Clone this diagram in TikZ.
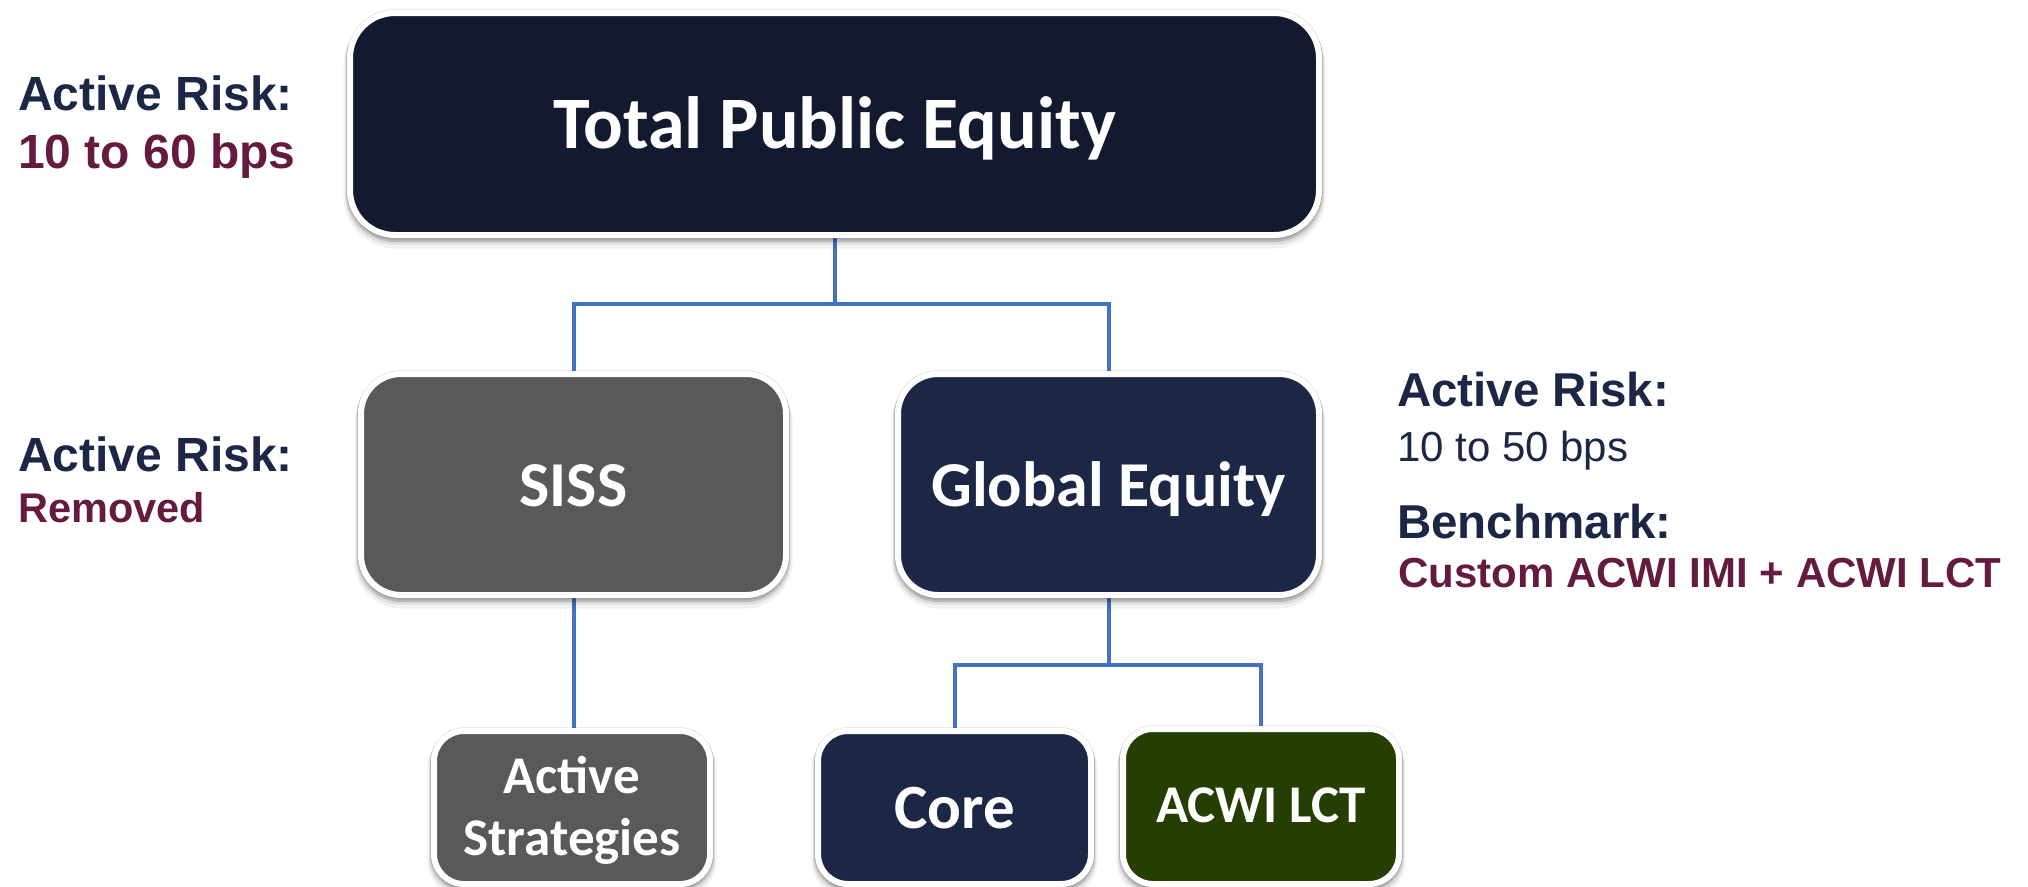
\documentclass[tikz,border=0pt]{standalone}
\usepackage{fontspec}
\setmainfont{Carlito}
\newfontfamily\arial{Liberation Sans}
\usetikzlibrary{shadows,backgrounds}
\definecolor{topnavy}{HTML}{131A2F}
\definecolor{navy}{HTML}{1B2745}
\definecolor{greybox}{HTML}{595959}
\definecolor{greenbox}{HTML}{253F02}
\definecolor{connblue}{HTML}{4472C4}
\definecolor{maroon}{HTML}{651A40}
\tikzset{
  box/.style={draw=white, line width=6pt, rounded corners=#1, inner sep=0pt,
    general shadow={fill=black, draw=black, line width=13pt, opacity=0.05, shadow yshift=-7pt},
    general shadow={fill=black, draw=black, line width=10pt, opacity=0.08, shadow yshift=-5pt},
    general shadow={fill=black, draw=black, line width=8pt, opacity=0.12, shadow yshift=-3pt},
    general shadow={fill=black, draw=black, line width=7.5pt, opacity=0.12}},
  box/.default=30pt,
  conn/.style={draw=connblue, line width=4pt},
  lbl/.style={text=white, font=\bfseries, anchor=base, inner sep=0pt},
  side/.style={anchor=base west, inner sep=0pt, font=\arial\bfseries},
}
\begin{document}
\begin{tikzpicture}[x=1pt,y=-1pt]
\useasboundingbox (0,0) rectangle (2028,886);
% boxes
\node[box=45pt, fill=topnavy, minimum width=969pt, minimum height=222pt] (tpe) at (834.5,124) {};
\node[box=40pt, fill=greybox, minimum width=425pt, minimum height=221pt] (siss) at (573.5,484.5) {};
\node[box=40pt, fill=navy, minimum width=421pt, minimum height=221pt] (ge) at (1108.5,484.5) {};
\node[box, fill=greybox, minimum width=276pt, minimum height=153pt] (as) at (572,807.5) {};
\node[box, fill=navy, minimum width=273pt, minimum height=153pt] (core) at (954.5,807.5) {};
\node[box, fill=greenbox, minimum width=276pt, minimum height=155pt] (lct) at (1261,806.5) {};
% connectors
\begin{scope}[on background layer]
\draw[conn] (tpe.south) -- ++(0,66) -| (siss.north);
\draw[conn] (tpe.south) -- ++(0,66) -| (ge.north);
\draw[conn] (siss.south) -- (siss.south |- as.north);
\draw[conn] (ge.south) -- ++(0,67) -| (core.north);
\draw[conn] (ge.south) -- ++(0,67) -| (lct.north);
\end{scope}
% box labels
\node[lbl, font=\fontsize{74}{80}\selectfont\bfseries] (tpet) at (834.5,148) {Total Public Equity};
\node[lbl, font=\fontsize{64}{70}\selectfont\bfseries] (sisst) at (573.5,506) {SISS};
\node[lbl, font=\fontsize{64}{70}\selectfont\bfseries] (get) at (1108.5,506) {Global Equity};
\node[lbl, font=\fontsize{53}{60}\selectfont\bfseries] (ast1) at (572,793) {Active};
\node[lbl, font=\fontsize{53}{60}\selectfont\bfseries] (ast2) at (572,855) {Strategies};
\node[lbl, font=\fontsize{63}{70}\selectfont\bfseries] (coret) at (954.5,828) {Core};
\node[lbl, font=\fontsize{53}{60}\selectfont\bfseries] (lctt) at (1261,822) {ACWI LCT};
% side texts
\node[side, text=navy, font=\fontsize{48}{54}\selectfont\arial\bfseries] (ar1) at (18,110) {Active Risk:};
\node[side, text=maroon, font=\fontsize{48}{54}\selectfont\arial\bfseries] (ar1v) at (18,168) {10 to 60 bps};
\node[side, text=navy, font=\fontsize{48}{54}\selectfont\arial\bfseries] (ar2) at (18,471) {Active Risk:};
\node[side, text=maroon, font=\fontsize{41.5}{48}\selectfont\arial\bfseries] (ar2v) at (18,522) {Removed};
\node[side, text=navy, font=\fontsize{47.5}{54}\selectfont\arial\bfseries] (ar3) at (1397,406) {Active Risk:};
\node[side, text=navy, font=\fontsize{42}{48}\selectfont\arial] (ar3v) at (1397,461) {10 to 50 bps};
\node[side, text=navy, font=\fontsize{47.5}{54}\selectfont\arial\bfseries] (bm) at (1397,538) {Benchmark:};
\node[side, text=maroon, font=\fontsize{42}{48}\selectfont\arial\bfseries] (bmv) at (1398,587) {Custom ACWI IMI + ACWI LCT};
\end{tikzpicture}
\end{document}
